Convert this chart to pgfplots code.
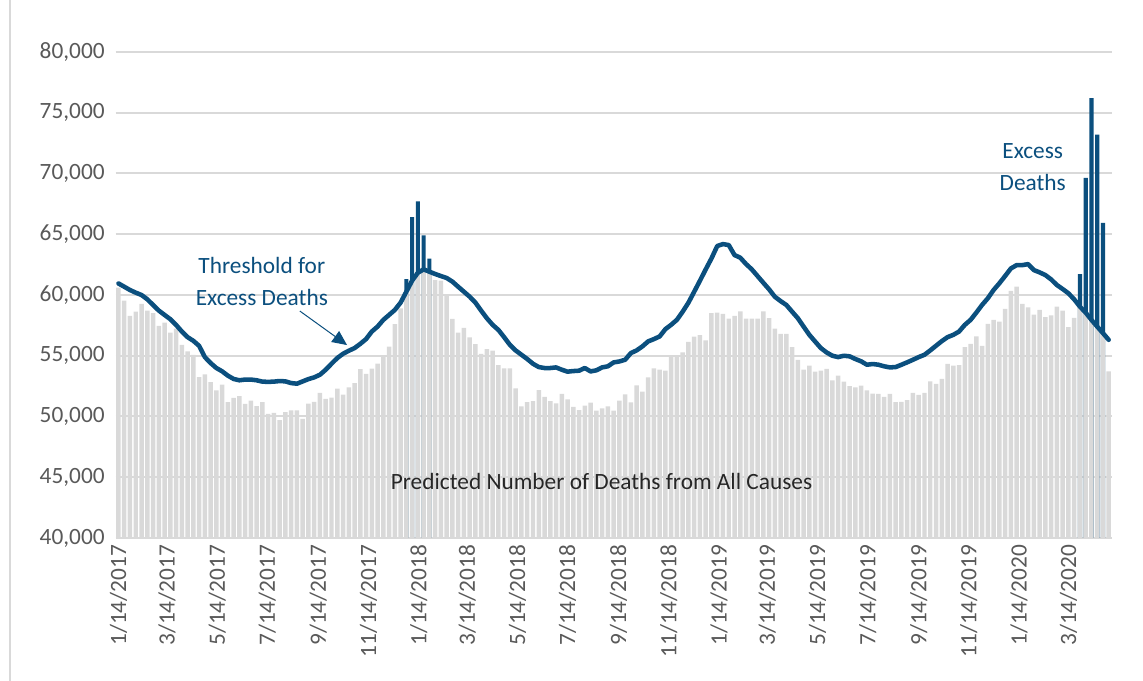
\documentclass[border=0pt]{standalone}
\usepackage{fontspec}
\setmainfont{Carlito}
\usepackage{pgfplots}
\pgfplotsset{compat=1.18}
\usepackage{pgfplotstable}
\usetikzlibrary{arrows.meta}

\definecolor{barGray}{HTML}{D9D9D9}
\definecolor{navy}{HTML}{0B4F7E}
\definecolor{tickGray}{HTML}{595959}
\newcommand{\chartfont}{\fontsize{17.5}{24}\selectfont}

% week index, predicted deaths (grey bars), threshold line
\pgfplotstableread{
i grey thr
0 60600 60950
1 59540 60680
2 58280 60410
3 58630 60190
4 59260 60000
5 58720 59650
6 58500 59180
7 57460 58720
8 57730 58360
9 56910 58010
10 57240 57540
11 55900 57000
12 55360 56530
13 55080 56230
14 53250 55820
15 53470 54890
16 52820 54400
17 52160 53990
18 52630 53720
19 51180 53360
20 51530 53090
21 51670 52980
22 51040 53040
23 51310 53040
24 50850 52980
25 51180 52870
26 50220 52850
27 50300 52870
28 49700 52920
29 50350 52890
30 50500 52750
31 50500 52700
32 49800 52890
33 51050 53080
34 51200 53220
35 51950 53440
36 51450 53850
37 51550 54340
38 52300 54810
39 51800 55160
40 52400 55410
41 52750 55630
42 53900 55980
43 53500 56370
44 53950 56990
45 54350 57400
46 55000 57950
47 55750 58360
48 57600 58770
49 58900 59370
50 60270 60270
51 61180 61180
52 61830 61830
53 62110 62110
54 61920 61920
55 61230 61730
56 61180 61560
57 60080 61400
58 58030 61100
59 56900 60680
60 57290 60270
61 56520 59860
62 55950 59370
63 55160 58710
64 55550 58080
65 55430 57540
66 54230 57120
67 53960 56520
68 53960 55890
69 52320 55430
70 50840 55080
71 51180 54730
72 51260 54340
73 52180 54070
74 51610 53990
75 51260 53990
76 51070 54040
77 51860 53850
78 51400 53690
79 50790 53740
80 50520 53770
81 50900 53990
82 51150 53710
83 50490 53800
84 50660 54040
85 50840 54130
86 50490 54450
87 51310 54530
88 51830 54670
89 51170 55220
90 52570 55440
91 52050 55770
92 53220 56180
93 53960 56370
94 53850 56590
95 53770 57190
96 54950 57550
97 55050 57960
98 55270 58630
99 56150 59370
100 56580 60270
101 56690 61180
102 56260 62110
103 58500 63010
104 58550 64030
105 58440 64190
106 58060 64110
107 58280 63290
108 58660 63070
109 58060 62550
110 58060 62110
111 58060 61560
112 58660 61010
113 58090 60470
114 57240 59860
115 56800 59500
116 56800 59180
117 55710 58630
118 54670 58090
119 53850 57400
120 54180 56720
121 53690 56170
122 53770 55630
123 53910 55270
124 52980 55000
125 53360 54890
126 52870 55000
127 52490 54950
128 52400 54730
129 52540 54540
130 52160 54260
131 51890 54320
132 51860 54260
133 51610 54130
134 51860 54040
135 51180 54070
136 51210 54260
137 51340 54460
138 51940 54670
139 51780 54890
140 51940 55080
141 52900 55440
142 52680 55820
143 53100 56200
144 54340 56530
145 54180 56720
146 54230 56990
147 55710 57540
148 55980 57950
149 56590 58550
150 55820 59180
151 57620 59730
152 57950 60410
153 57810 60960
154 58850 61560
155 60330 62180
156 60680 62460
157 59260 62460
158 58990 62540
159 58390 62050
160 58770 61860
161 58170 61640
162 58330 61280
163 59040 60820
164 58710 60490
165 57350 60140
166 58120 59640
167 59000 59040
168 58550 58550
169 57950 57950
170 57400 57400
171 56860 56860
172 53720 56310
}\weekly

\begin{document}
\begin{tikzpicture}[x=0.75pt,y=0.75pt]
\useasboundingbox (0,0) rectangle (1143,681);
\draw[barGray, line width=1.5pt] (10,0) -- (10,681);
\begin{axis}[
  at={(86.7pt,107.25pt)}, anchor=south west,
  scale only axis, width=747pt, height=364.5pt,
  xmin=-0.5, xmax=172.5,
  ymin=40000, ymax=80000,
  ytick={40000,45000,...,80000},
  scaled y ticks=false,
  ymajorgrids,
  grid style={barGray, line width=1.5pt},
  axis line style={draw=none},
  major tick length=0pt,
  xtick={0,8.43,17.14,25.86,34.71,43.43,52.14,60.57,69.29,78,86.86,95.57,104.29,112.71,121.43,130.14,139,147.71,156.43,165},
  xticklabels={1/14/2017,3/14/2017,5/14/2017,7/14/2017,9/14/2017,11/14/2017,1/14/2018,3/14/2018,5/14/2018,7/14/2018,9/14/2018,11/14/2018,1/14/2019,3/14/2019,5/14/2019,7/14/2019,9/14/2019,11/14/2019,1/14/2020,3/14/2020},
  tick label style={font=\chartfont, text=tickGray, inner sep=0pt,
    /pgf/number format/assume math mode=true},
  xticklabel style={rotate=90, anchor=east},
  yticklabel style={anchor=east, /pgf/number format/1000 sep={,}},
  xticklabel shift=5pt,
  yticklabel shift=8pt,
]
% observed deaths above the threshold (drawn first, grey covers the lower part)
\addplot[ybar, bar width=0.72, bar shift=0pt, fill=navy, draw=none] coordinates {
  (50,61300) (51,66400) (52,67700) (53,64900) (54,63000)
  (167,61720) (168,69640) (169,76200) (170,73190) (171,65930)
};
\addplot[ybar, bar width=0.78, bar shift=0pt, fill=barGray, draw=none]
  table[x=i, y=grey] {\weekly};
\addplot[navy, line width=3.4pt, line join=round, line cap=round, mark=none]
  table[x=i, y=thr] {\weekly};

\node[font=\chartfont, text=navy, align=center] at (axis cs:24.9,61150) {Threshold for\\Excess Deaths};
\node[font=\chartfont, text=navy, align=center] at (axis cs:158.8,70530) {Excess\\Deaths};
\node[font=\chartfont, text=black!85] at (axis cs:83.9,44690) {Predicted Number of Deaths from All Causes};
\draw[navy, line width=0.75pt, -{Triangle[length=11pt,width=10pt]}]
  (axis cs:31.5,58680) -- (axis cs:39.7,55880);
\end{axis}
\end{tikzpicture}
\end{document}
